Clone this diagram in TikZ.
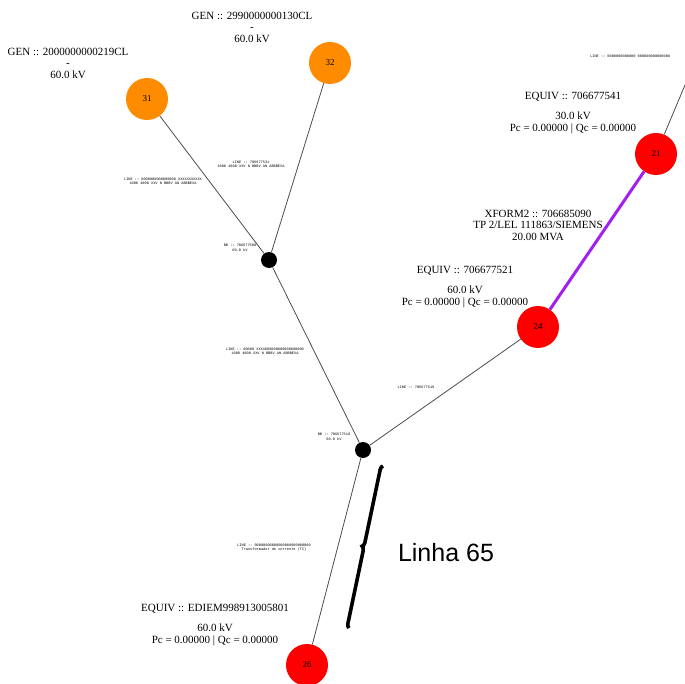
\documentclass[tikz,border=0pt]{standalone}
\usepackage{fontspec}
\setmainfont{Liberation Serif}
\setmonofont{Liberation Mono}
\newfontfamily\callfont{Liberation Sans}
\usetikzlibrary{decorations.pathreplacing}
\definecolor{genorange}{HTML}{FF8C00}
\definecolor{equivred}{HTML}{FF0000}
\definecolor{xfpurple}{HTML}{A020F0}

\begin{document}
\begin{tikzpicture}[x=1pt,y=-1pt]
            \tikzset{
                gen/.style={circle,fill=genorange,minimum size=42pt,inner sep=0pt,font=\fontsize{9}{10}\selectfont},
                equiv/.style={circle,fill=equivred,minimum size=42pt,inner sep=0pt,font=\fontsize{9}{10}\selectfont},
                bus/.style={circle,fill=black,minimum size=16pt,inner sep=0pt},
                info/.style={align=center,inner sep=0pt,font=\fontsize{11}{11.5}\selectfont},
                tag/.style={align=center,inner sep=0pt,font=\fontsize{3.6}{4}\ttfamily},
                feeder/.style={draw=black!70,line width=0.8pt},
                xform/.style={draw=xfpurple,line width=3pt},
                callout/.style={decorate,decoration={brace,amplitude=4pt},line width=3.5pt},}
            \useasboundingbox (0,0) rectangle (685,684);
            \clip (0,0) rectangle (685,684);
            % buses
            \node [bus] (busA) at (269,260) {};
            \node [bus] (busB) at (363,450) {};
            \node [gen] (n31) at (147,99) {31};
            \node [gen] (n32) at (330,63) {32};
            \node [equiv] (n21) at (656,154) {21};
            \node [equiv] (n24) at (538,327) {24};
            \node [equiv] (n26) at (307,665) {26};
            \coordinate (out21) at (693,66);
            % lines
            \draw [feeder] (n31) -- (busA);
            \draw [feeder] (n32) -- (busA);
            \draw [feeder] (busA) -- (busB);
            \draw [feeder] (busB) -- (n24);
            \draw [feeder] (busB) -- (n26);
            \draw [feeder] (n21) -- (out21);
            \draw [xform] (n24) -- (n21);
            % labels
            \node [info] (l31) at (68,63) {GEN :: 2000000000219CL\\-\\60.0 kV};
            \node [info] (l32) at (252,27) {GEN :: 2990000000130CL\\-\\60.0 kV};
            \node [info] (l21) at (573,113) {EQUIV :: 706677541\\[9pt]30.0 kV\\Pc = 0.00000 | Qc = 0.00000};
            \node [info] (lxf) at (538,225) {XFORM2 :: 706685090\\TP 2/LEL 111863/SIEMENS\\20.00 MVA};
            \node [info] (l24) at (465,287) {EQUIV :: 706677521\\[9pt]60.0 kV\\Pc = 0.00000 | Qc = 0.00000};
            \node [info] (l26) at (215,625) {EQUIV :: EDIEM998913005801\\[9pt]60.0 kV\\Pc = 0.00000 | Qc = 0.00000};
            \node [tag] (t32) at (251,164) {LINE :: 706677531\\1000 4000 XXV N BBBV AN ABBBEVA};
            \node [tag] (t31) at (163,181) {LINE :: 0000000000000000 XXXXXXXXXXX\\1000 4000 XXV N BBBV AN ABBBEVA};
            \node [tag] (tA) at (240,248) {BB :: 706677500\\[1pt]60.0 kV};
            \node [tag] (tAB) at (265,351) {LINE :: 00000 XXXX000000000000000000\\1000 4000 XXV N BBBV AN ABBBEVA};
            \node [tag] (t24) at (416,387) {LINE :: 706677519};
            \node [tag] (tB) at (334,437) {BB :: 706677510\\[1pt]60.0 kV};
            \node [tag] (t26) at (274,548) {LINE :: 00000000000000000000000000\\Transformador de corrente (TC)};
            \node [tag,anchor=west] (t21) at (590,56) {LINE :: 0000000000000 000000000000000};
            % callout
            \coordinate (braceBot) at (349,628);
            \coordinate (braceTop) at (383,466);
            \draw [callout,black!30,shift={(2.5,2.5)}] (braceBot) -- (braceTop);
            \draw [callout] (braceBot) -- (braceTop);
            \node [font=\callfont\fontsize{25}{28}\selectfont] (linha) at (446,553) {Linha 65};
        \end{tikzpicture}
\end{document}
